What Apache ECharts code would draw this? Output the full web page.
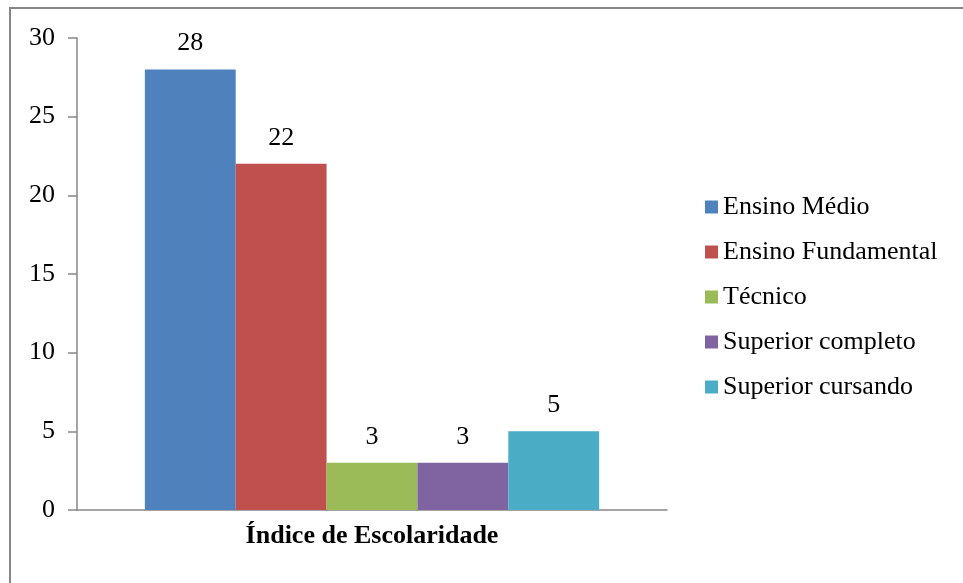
<!DOCTYPE html>
<html>
<head>
<meta charset="utf-8">
<script src="https://cdn.jsdelivr.net/npm/echarts@6/dist/echarts.min.js"></script>
<style>
  html, body {margin: 0; padding: 0; background: #ffffff;}
  #chart {width: 963px; height: 583px;}
</style>
</head>
<body>
<div id="chart"></div>
<script>
  // dados do gráfico
  var categoria = ['Índice de Escolaridade'];
  var niveis = ['Ensino Médio', 'Ensino Fundamental', 'Técnico', 'Superior completo', 'Superior cursando'];
  var valores = [28, 22, 3, 3, 5];
  var cores = ['#4F81BD', '#C0504D', '#9BBB59', '#8064A2', '#4BACC6'];
  var yTicks = [0, 5, 10, 15, 20, 25, 30];

  var fonte = '"Liberation Serif", "Times New Roman", serif';

  var myChart = echarts.init(document.getElementById('chart'));

  var series = [];
  for (var i = 0; i < niveis.length; i++) {
    series.push({
      name: niveis[i],
      type: 'bar',
      data: [valores[i]],
      barGap: '0%',
      barCategoryGap: '23%',
      itemStyle: {color: cores[i]},
      label: {
        show: true,
        position: 'top',
        distance: 13,
        color: '#000',
        fontFamily: fonte,
        fontSize: 26
      }
    });
  }

  myChart.setOption({
    animation: false,
    graphic: [{
      type: 'rect',
      shape: {x: 10, y: 8, width: 1000, height: 700},
      style: {fill: 'none', stroke: '#868686', lineWidth: 2},
      silent: true
    }],
    grid: {
      left: 77,
      right: 296,
      top: 38,
      bottom: 73
    },
    legend: {
      orient: 'vertical',
      left: 700,
      top: 189,
      itemWidth: 13,
      itemHeight: 13,
      itemGap: 19,
      icon: 'rect',
      textStyle: {
        fontFamily: fonte,
        fontSize: 26,
        lineHeight: 26,
        color: '#000'
      },
      data: niveis
    },
    xAxis: {
      type: 'category',
      data: categoria,
      axisLine: {lineStyle: {color: '#868686', width: 1.5}},
      axisTick: {show: false},
      axisLabel: {
        margin: 13,
        color: '#000',
        fontFamily: fonte,
        fontSize: 26,
        fontWeight: 'bold'
      }
    },
    yAxis: {
      type: 'value',
      min: yTicks[0],
      max: yTicks[yTicks.length - 1],
      interval: 5,
      splitLine: {show: false},
      axisLine: {show: true, lineStyle: {color: '#868686', width: 1.5}},
      axisTick: {show: true, length: 9, lineStyle: {color: '#868686', width: 1.5}},
      axisLabel: {
        margin: 22,
        color: '#000',
        fontFamily: fonte,
        fontSize: 26
      }
    },
    series: series
  });
</script>
</body>
</html>
